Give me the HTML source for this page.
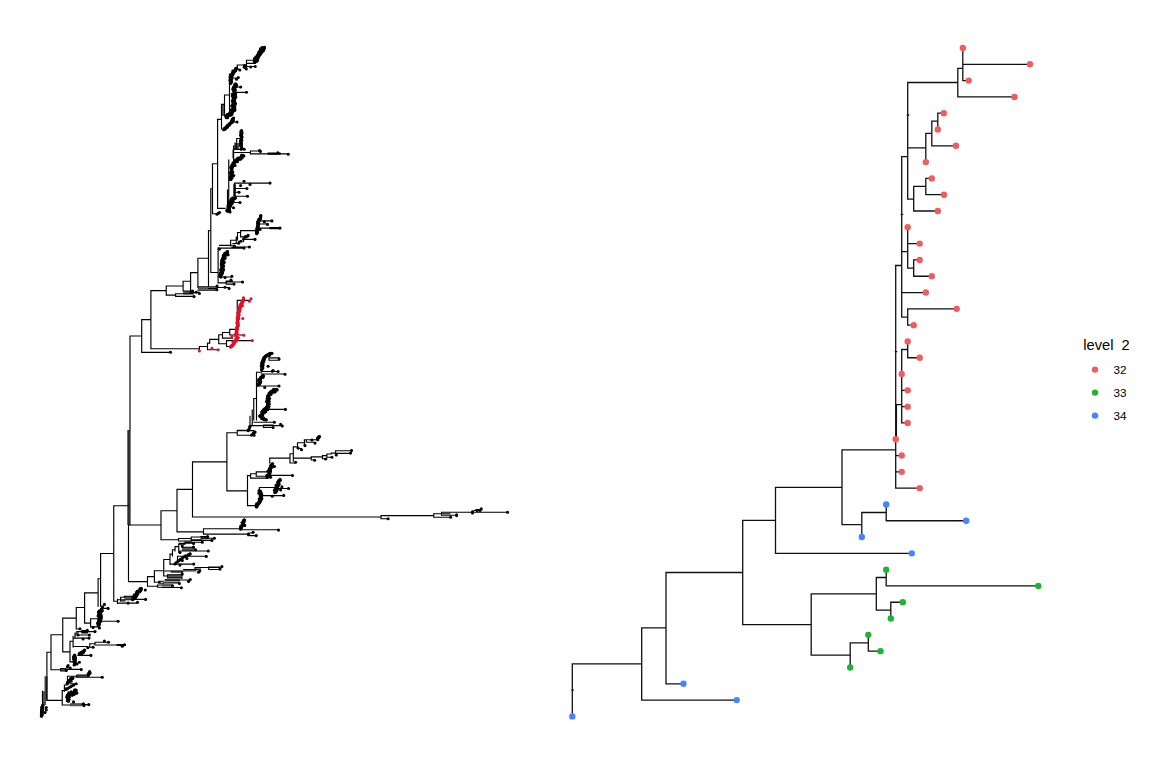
<!DOCTYPE html>
<html><head><meta charset="utf-8"><title>tree</title>
<style>
html,body{margin:0;padding:0;background:#fff;}
body{width:1152px;height:768px;overflow:hidden;position:relative;font-family:"Liberation Sans",sans-serif;color:#111;}
svg{position:absolute;left:0;top:0;}
.lt{position:absolute;left:1083.3px;top:337px;font-size:14.67px;line-height:17px;white-space:pre;color:#000;}
.ll{position:absolute;left:1113.6px;font-size:11.73px;line-height:14px;color:#000;}
</style></head><body>
<svg width="1152" height="768" viewBox="0 0 1152 768">
<rect width="1152" height="768" fill="#fff"/>
<g id="left">
<g fill="#555"><rect x="221.5" y="104.3" width="3" height="11.7"/><rect x="235" y="143" width="4" height="6.3"/><rect x="183.1" y="291" width="10.65" height="3.5"/><rect x="197.9" y="287.2" width="19.1" height="2.5"/><rect x="201.25" y="536.3" width="7.5" height="2.9"/><rect x="181.9" y="547.25" width="13.1" height="3.75"/><rect x="183.75" y="569.75" width="12.5" height="1.85"/><rect x="170.6" y="570.75" width="12.5" height="2.15"/><rect x="167.5" y="574.75" width="13.75" height="3.15"/><rect x="165" y="579.1" width="15" height="2.5"/><rect x="162.5" y="584.1" width="10" height="2.5"/><rect x="124.4" y="596.25" width="6.85" height="3.15"/><rect x="60.6" y="668.5" width="5" height="2.5"/><rect x="42.5" y="691.25" width="3.5" height="13.75"/><rect x="76.9" y="675" width="10.6" height="2.25"/><rect x="70" y="703.1" width="12.5" height="3.15"/></g>
<rect x="127.3" y="430" width="3.3" height="95" fill="#2e2e2e"/>
<rect x="44.5" y="676.25" width="3" height="24.3" fill="#444"/>
<path d="M246.5 60.25H254.5M246.5 60.25V66.5M237.3 65H246.5M247.5 63.3H254M246.5 66.5H255.2M237.3 69.5H239.8M237.3 65V69.5M232 78H238M229.5 74V113M224.5 95V116M224.5 95H229.5M235 87H240.7M234 92.3H246.5M221.5 104.3V129M221.5 104.3H224.5M217.5 119.3H221.5M217.6 119.3V208.4M232 122H237M236.7 138.5V149.3M236.7 138.5H240M235 143V149.3M233.6 149.3H244.2M233.6 146V160M233.6 152.5H250.4M250.4 151V154M250.4 151H260.4M250.4 153.9H288.3M217.6 208.4H225M212.5 163.75H217.6M212.5 163.75V213.75M212.5 213.75H217M210.8 188.75V272.5M210.8 188.75H212.5M208.5 230.6V286.6M208.5 230.6H210.8M233.1 150V158M228.75 160V210M227.5 190V208.75M234.4 183.75V198.75M234.4 183.1H270M234.4 188.5H246.9M234.4 192.25H239M234.4 196.25H247.5M231.9 202.5H240M258.5 220.9H271.9M258 224H267.5M257 228.1H280M240.6 230.6H256.25M240.6 230.6V236.9M237.5 232.5H240.6M237.5 232.5V240M240.6 236.9H248M245 239.4H255M230.6 240.25H236.25M230.6 240.25V246M236.25 237V243M243.5 239H246.3M238.6 241.3H241M243.5 239V241.3M238.6 241.3V243.5M233 243.5H238.6M220.6 245.25H235M210.8 272.5H218.1M197.9 258.25H208.5M197.9 258.25V287.5M190.6 272.6H197.9M190.6 272.6V290.6M183.1 281.25H190.6M183.1 281.25V291M166.25 286H183.1M166.25 286V295M150.9 290.6H166.25M150.9 290.6V348.75M141.7 319.6H150.9M141.7 319.6V352.4M166.25 295.1H175.6M175.6 293.75H193.75M175.6 296.4H193.75M175.6 293.75V296.4M183.1 291H192.5M190 292.3H199.4M197.9 286.7H217M197.9 290.2H216.9M208.5 288.5H217M217 287.5H229M218.1 247.9V282.9M219.5 245.4H230.6M218.1 248.1H243.75M232 247H249.4M220 277H232M226 282H242.5M226.25 281H232.5M226.25 284.1H232.5M226.25 281V284.1M218.1 282.9H226.25M237.25 300.4V330M237.25 300.4H249M229.75 329.4H235M150.9 348.75H199.4M141.7 352.4H170.5M130 336H141.7M130 336V430M199.4 346.5V351M199.4 346.5H207.5M207.5 343.1V349.75M207.5 349.75H218M209.75 339.4V343.1M207.5 343.1H209.75M209.75 339.4H218.75M218.75 334.75V343.75M218.75 334.75H222.5M218.75 343.75H226.5M222.5 332.5V338.1M222.5 332.5H229.75M222.5 338.1H232.5M229.75 329.4V335M229.75 335H243.75M226.5 340.6V346.5M226.5 340.6H252.25M226.5 346.5H230.6M269 357.8H279M269 360.2H279M269 357.8V360.2M256.5 372.25H261.5M256.5 372.25V420M261.25 374H285M262 371.5H278M256.5 386H278.75M267.5 409.4H285M254 422.25H274.4M253.75 398.5V420M253.75 398.5H256.5M252.25 410V425M250 416.25V427.5M250 425.6H282.5M263.5 425H273.1M263.5 427.5H273.1M263.5 425V427.5M237.25 430.25H248.1M226.9 432.75H237.25M237.25 430.6H253.75M237.25 435.25H253.75M237.25 430.6V435.25M226.9 432.75V490.8M192.5 461.8H226.9M192.5 461.8V517M177 489.4H192.5M177 489.4V531.9M226.9 490.8H247.5M247.5 475.6V505.6M247.5 475.6H250.6M250.6 473.75V478.1M250.6 478.1H267M250.6 473.75H256.25M256.25 471.9H266.9M256.25 476.25H266.9M256.25 471.9V476.25M267 475.4H292.5M269.75 458.1V463M269.75 458.1H290M290 453.75H293.3M290 463H293.3M290 453.75V463M293.3 448.1V461.25M290 463H295M293.3 458.1H311.25M311.25 456.9V460M311.25 460H314.5M311.25 456.9H322.5M322.5 455.6H326.9M322.5 458.75H326.9M322.5 455.6V458.75M326.9 454H331.25M326.9 457.25H331.25M326.9 454V457.25M331.25 453.1H335.6M335.6 450.7H350M335.6 453.3H350M335.6 450.7V453.3M293.3 446.9H297.5M297.5 448.5H301.5M297.5 442.75V446.9M297.5 442.75H303.75M304.4 439.75V445M304.4 439.75H317.5M306.25 439.75H313.75M306.25 442.25H313.75M306.25 439.75V442.25M259.4 487.5V496M259.4 487.5H274.4M276 488.5H288.5M261.25 495.6H283.75M247.5 505.6H255.6M192.5 517H381M381 515.6H388.1M381 518.75H388.1M381 515.6V518.75M388 515.6H433.75M433.75 513.75H450M433.75 517.25H450M433.75 513.75V517.25M441.5 512.25H456.25M441.5 515.25H456.25M441.5 512.25V515.25M441.5 512.25H507.5M474 510.5H480M476 509.5H481M129.4 525H161M161 510.75V539.75M161 510.75H177M128.5 525V581.6M177 531.9H203.5M203.5 528.75V534.1M203.5 528.75H240M203.5 534.1H248.1M240 529.75H278.1M248 535.6H256M248 533H253M113.75 505.75H128.5M113.75 505.75V601.25M100.6 553.5H113.75M128.5 581.6H147.5M161 539.75H178.5M178.5 538.5H191.25M178.5 541H191.25M178.5 538.5V541M191.25 537H201.25M191.25 539.75H201.25M191.25 537V539.75M201 538.25H214.4M191 540.4H212M185 542.25H202M201 536.6H207.6M179.4 543.25H193.6M172.5 549.75V556M175 546.6V551M178.75 544.1V552.25M178.75 544.1H185M175 546.6H178.75M172.5 549.75H175M181.9 547.25H193.5M180 551H208.1M170 554.1V564.5M170 554.1H172.5M177.5 556.25H206.25M177.5 556.25V562.25M170 564.1H193.75M163.75 559.5V576M163.75 559.5H170M154.4 570.75H163.75M154.4 570.75V582.25M147.5 576.6H154.4M147.5 576.6V586.25M195 567.5H220M208.75 567H219.4M208.75 569.5H219.4M208.75 567V569.5M195 567.9H200.6M195 569.75H200.6M195 567.9V569.75M183.75 569.5H197.5M165 571H183.75M181.9 572.25V578.5M163.75 576H167.5M167.5 574.75H181.25M167.5 577.9H181.25M167.5 574.75V577.9M165 580H190M154.4 582.25H160M158.75 581.25H163.75M158.75 583.25H163.75M158.75 581.25V583.25M163.75 582.9H179.4M147.5 586.25H157.5M157.5 585H162.5M157.5 587.25H162.5M157.5 585V587.25M162.5 587.5H181.25M100.6 553.5V606.25M113.75 601.25H117.5M133 599.4H145.6M117.5 599.75H133.75M117.5 599.4V603.5M117.5 603.1H137.5M120.6 597.25H125M120.6 601H125M120.6 597.25V601M124.4 596.25H133M98.1 578.75H100.6M98.1 578.75V606.25M84.6 592.9H98.1M84.6 592.9V623.1M84.6 623.1H90.6M76.25 607.5H84.6M76.25 607.5V629M62.75 618.1H76.25M62.75 618.1V651.9M62.75 651.9H70M51 634.75H62.75M51 634.75V669.75M46.9 652.25H51M46.9 652.25V700.4M100.6 608.4H108M100 621.25H118.1M90.6 618.75H95M90.6 626.9H95M90.6 618.75V626.9M95 618.75H98M95 626.9H98M76.25 629H80M76.9 631.6H95M81.9 630.6H87.5M81.9 632.9H87.5M81.9 630.6V632.9M73.1 638.1H89M73.1 636.25V646.9M75 633.1V637.5M75 633.1H78M75 635H89.4M70 641.25V661.9M70 641.25H73.1M73.1 646.5H87.5M87.5 647.25H93.1M89.75 643.75V646.9M89.75 643.75H95M95 642.25H103.75M95 645H103.75M95 642.25V645M103.75 642.25H108.5M103.75 645H125M78 655.4H90.9M70 661.9H74.4M51 669.75H60.6M60.6 668.5H65.6M60.6 671H65.6M60.6 668.5V671M65.6 669.4H81M42.5 691.25V705M46.9 700.4H62.25M62.25 690.6V705M76.25 677.25H102.25M76.9 675H87.5M76.9 677.25H87.5M76.9 675V677.25M67.5 676.25H76.25M67.5 676.25V682.5M70 683.75H76.25M64.4 685V691.25M64.4 685H67.5M64.4 688.1H67.5M64.4 685V688.1M62.25 690.6H64.4M62.25 705H70M82 704.6H88.75" fill="none" stroke="#000" stroke-width="1.15" stroke-linecap="square"/>
<path d="M268.3 153.6L280 153.6" stroke="#000" stroke-width="2.2" stroke-linecap="round"/>
<path d="M234.6 185L234.6 199" stroke="#000" stroke-width="2.4" stroke-linecap="round"/>
<path d="M270 228.1L280 228.1" stroke="#000" stroke-width="2.2" stroke-linecap="round"/>
<path d="M117.5 645L125 645" stroke="#000" stroke-width="2.2" stroke-linecap="round"/>
<path d="M264.2 47.2L259.4 52.5L256.7 56.7L255 62.5" fill="none" stroke="#000" stroke-width="2.87" stroke-linecap="round" stroke-linejoin="round"/>
<path d="M236.5 68L232.5 73L230.8 78L230.7 83.5" fill="none" stroke="#000" stroke-width="2.24" stroke-linecap="round" stroke-linejoin="round"/>
<path d="M235.3 84L234.3 92L233.6 104L232.8 112L229.5 115.3L226 117" fill="none" stroke="#000" stroke-width="2.94" stroke-linecap="round" stroke-linejoin="round"/>
<path d="M233.5 118L231.5 123L227 126.5L223.5 129.5" fill="none" stroke="#000" stroke-width="2.1" stroke-linecap="round" stroke-linejoin="round"/>
<path d="M241.4 130.6L241 149.3" fill="none" stroke="#000" stroke-width="2.03" stroke-linecap="round" stroke-linejoin="round"/>
<path d="M243.5 155.5L238 159L234 164L231.5 170L230.3 179.5" fill="none" stroke="#000" stroke-width="2.73" stroke-linecap="round" stroke-linejoin="round"/>
<path d="M232.5 198L230 204L227.5 211.25" fill="none" stroke="#000" stroke-width="2.8" stroke-linecap="round" stroke-linejoin="round"/>
<path d="M260.9 215.5L258.1 222.5L256.9 233.75" fill="none" stroke="#000" stroke-width="1.96" stroke-linecap="round" stroke-linejoin="round"/>
<path d="M227.5 251.5L224.5 256L223 262L222 270L220.7 277" fill="none" stroke="#000" stroke-width="2.59" stroke-linecap="round" stroke-linejoin="round"/>
<path d="M243.3 299L241 304L238.8 312L237.6 322L236.8 333L235.3 335.5" fill="none" stroke="#E0112B" stroke-width="2.03" stroke-linecap="round" stroke-linejoin="round"/>
<path d="M238.1 337.5L234 342.5L230.6 347.25" fill="none" stroke="#E0112B" stroke-width="2.1" stroke-linecap="round" stroke-linejoin="round"/>
<path d="M271.9 353.1L266.5 356L263.75 358.75L262.3 364L261.9 370" fill="none" stroke="#000" stroke-width="2.1" stroke-linecap="round" stroke-linejoin="round"/>
<path d="M263.1 375.6L260 380L258.1 385" fill="none" stroke="#000" stroke-width="2.45" stroke-linecap="round" stroke-linejoin="round"/>
<path d="M276.9 389.4L272 391.5L269.4 394.4L268 400L267.5 407.5L263.5 412L260 416.25" fill="none" stroke="#000" stroke-width="2.66" stroke-linecap="round" stroke-linejoin="round"/>
<path d="M260 416.25L263 418.5L266.25 420" fill="none" stroke="#000" stroke-width="2.1" stroke-linecap="round" stroke-linejoin="round"/>
<path d="M272.5 463.75L269.5 470L267.5 477.5" fill="none" stroke="#000" stroke-width="2.45" stroke-linecap="round" stroke-linejoin="round"/>
<path d="M319.4 436.5L317.7 439.6" fill="none" stroke="#000" stroke-width="2.1" stroke-linecap="round" stroke-linejoin="round"/>
<path d="M280 479.4L277 486L275 492.5" fill="none" stroke="#000" stroke-width="2.45" stroke-linecap="round" stroke-linejoin="round"/>
<path d="M259.4 490.6L261.25 497.5L258.5 502L256.25 506.9" fill="none" stroke="#000" stroke-width="2.45" stroke-linecap="round" stroke-linejoin="round"/>
<path d="M244.4 519.75L242 524.5L240.6 529.1" fill="none" stroke="#000" stroke-width="2.1" stroke-linecap="round" stroke-linejoin="round"/>
<path d="M141.25 588.5L136.5 594L132.5 599.4" fill="none" stroke="#000" stroke-width="2.45" stroke-linecap="round" stroke-linejoin="round"/>
<path d="M101.25 610L99.5 617L98.1 625" fill="none" stroke="#000" stroke-width="3.15" stroke-linecap="round" stroke-linejoin="round"/>
<path d="M84.4 650L79.4 654" fill="none" stroke="#000" stroke-width="2.45" stroke-linecap="round" stroke-linejoin="round"/>
<path d="M74.4 655L74.4 665" fill="none" stroke="#000" stroke-width="2.24" stroke-linecap="round" stroke-linejoin="round"/>
<path d="M42.7 705L42.2 711L41.6 716.25" fill="none" stroke="#000" stroke-width="1.89" stroke-linecap="round" stroke-linejoin="round"/>
<path d="M89.75 672L88.5 675.5" fill="none" stroke="#000" stroke-width="2.1" stroke-linecap="round" stroke-linejoin="round"/>
<path d="M73.1 678.1L70 681L67.5 683.75" fill="none" stroke="#000" stroke-width="2.45" stroke-linecap="round" stroke-linejoin="round"/>
<path d="M76.25 690.6L72 693L67.5 696.25" fill="none" stroke="#000" stroke-width="3.15" stroke-linecap="round" stroke-linejoin="round"/>
<path d="M67.5 696L68.1 701.25" fill="none" stroke="#000" stroke-width="2.45" stroke-linecap="round" stroke-linejoin="round"/>
<g fill="#000"><circle cx="264.43" cy="47.4" r="1.55"/><circle cx="264.41" cy="48.2" r="1.55"/><circle cx="263.39" cy="48.1" r="1.55"/><circle cx="261.96" cy="47.63" r="1.55"/><circle cx="263.82" cy="50.12" r="1.55"/><circle cx="263.41" cy="50.57" r="1.55"/><circle cx="260.51" cy="48.77" r="1.55"/><circle cx="260.79" cy="49.83" r="1.55"/><circle cx="262.19" cy="51.92" r="1.55"/><circle cx="261.1" cy="51.76" r="1.55"/><circle cx="259.57" cy="51.18" r="1.55"/><circle cx="260.97" cy="53.27" r="1.55"/><circle cx="258.69" cy="52.19" r="1.55"/><circle cx="260.16" cy="53.86" r="1.55"/><circle cx="260.09" cy="54.53" r="1.55"/><circle cx="259.76" cy="55.04" r="1.55"/><circle cx="258.02" cy="54.64" r="1.55"/><circle cx="257.69" cy="55.15" r="1.55"/><circle cx="258.78" cy="56.57" r="1.55"/><circle cx="258.19" cy="56.92" r="1.55"/><circle cx="258.12" cy="57.59" r="1.55"/><circle cx="255.8" cy="57.05" r="1.55"/><circle cx="256.36" cy="57.85" r="1.55"/><circle cx="257.8" cy="58.9" r="1.55"/><circle cx="254.41" cy="58.54" r="1.55"/><circle cx="255.12" cy="59.38" r="1.55"/><circle cx="257.29" cy="60.64" r="1.55"/><circle cx="256.83" cy="61.14" r="1.55"/><circle cx="254.28" cy="61.03" r="1.55"/><circle cx="254.38" cy="61.69" r="1.55"/><circle cx="254.71" cy="62.41" r="1.55"/><circle cx="236.79" cy="68.23" r="1.55"/><circle cx="235.93" cy="68.3" r="1.55"/><circle cx="235.5" cy="68.71" r="1.55"/><circle cx="235.39" cy="69.39" r="1.55"/><circle cx="235.75" cy="70.44" r="1.55"/><circle cx="235.25" cy="70.79" r="1.55"/><circle cx="235.01" cy="71.36" r="1.55"/><circle cx="233.58" cy="70.97" r="1.55"/><circle cx="232.81" cy="71.12" r="1.55"/><circle cx="233.77" cy="72.64" r="1.55"/><circle cx="233.13" cy="72.89" r="1.55"/><circle cx="232.46" cy="73.11" r="1.55"/><circle cx="233" cy="73.92" r="1.55"/><circle cx="231.68" cy="74.09" r="1.55"/><circle cx="232.78" cy="75.09" r="1.55"/><circle cx="231.3" cy="75.22" r="1.55"/><circle cx="231.91" cy="76.05" r="1.55"/><circle cx="230.92" cy="76.34" r="1.55"/><circle cx="230.24" cy="76.74" r="1.55"/><circle cx="230.21" cy="77.35" r="1.55"/><circle cx="231.56" cy="78.18" r="1.55"/><circle cx="231.72" cy="78.78" r="1.55"/><circle cx="230.35" cy="79.34" r="1.55"/><circle cx="230.34" cy="79.94" r="1.55"/><circle cx="229.99" cy="80.52" r="1.55"/><circle cx="231.51" cy="81.14" r="1.55"/><circle cx="231.15" cy="81.73" r="1.55"/><circle cx="231.46" cy="82.33" r="1.55"/><circle cx="230.46" cy="82.9" r="1.55"/><circle cx="230.39" cy="83.49" r="1.55"/><circle cx="236" cy="84.09" r="1.55"/><circle cx="234.75" cy="84.54" r="1.55"/><circle cx="236.55" cy="85.37" r="1.55"/><circle cx="234.28" cy="85.69" r="1.55"/><circle cx="236.43" cy="86.57" r="1.55"/><circle cx="234.93" cy="86.98" r="1.55"/><circle cx="233.42" cy="87.4" r="1.55"/><circle cx="233.98" cy="88.08" r="1.55"/><circle cx="234.7" cy="88.77" r="1.55"/><circle cx="232.88" cy="89.15" r="1.55"/><circle cx="235.35" cy="90.07" r="1.55"/><circle cx="234.48" cy="90.56" r="1.55"/><circle cx="233.61" cy="91.06" r="1.55"/><circle cx="234.33" cy="91.76" r="1.55"/><circle cx="235.08" cy="92.4" r="1.55"/><circle cx="235.04" cy="93" r="1.55"/><circle cx="235.65" cy="93.64" r="1.55"/><circle cx="232.42" cy="94.05" r="1.55"/><circle cx="235.58" cy="94.84" r="1.55"/><circle cx="232.67" cy="95.27" r="1.55"/><circle cx="232.31" cy="95.85" r="1.55"/><circle cx="235.47" cy="96.64" r="1.55"/><circle cx="235.76" cy="97.26" r="1.55"/><circle cx="233.17" cy="97.71" r="1.55"/><circle cx="234.73" cy="98.41" r="1.55"/><circle cx="233.1" cy="98.91" r="1.55"/><circle cx="233.86" cy="99.56" r="1.55"/><circle cx="234.62" cy="100.21" r="1.55"/><circle cx="232.35" cy="100.68" r="1.55"/><circle cx="233.75" cy="101.36" r="1.55"/><circle cx="234.52" cy="102.01" r="1.55"/><circle cx="232.89" cy="102.51" r="1.55"/><circle cx="235.41" cy="103.26" r="1.55"/><circle cx="235.37" cy="103.86" r="1.55"/><circle cx="232.77" cy="104.28" r="1.55"/><circle cx="233.5" cy="104.96" r="1.55"/><circle cx="234.88" cy="105.7" r="1.55"/><circle cx="231.63" cy="105.98" r="1.55"/><circle cx="234.12" cy="106.83" r="1.55"/><circle cx="234.7" cy="107.5" r="1.55"/><circle cx="233.2" cy="107.95" r="1.55"/><circle cx="233.15" cy="108.55" r="1.55"/><circle cx="234.84" cy="109.32" r="1.55"/><circle cx="231.59" cy="109.6" r="1.55"/><circle cx="234.72" cy="110.52" r="1.55"/><circle cx="231.15" cy="110.77" r="1.55"/><circle cx="232.05" cy="111.46" r="1.55"/><circle cx="232.14" cy="111.53" r="1.55"/><circle cx="231.03" cy="111.28" r="1.55"/><circle cx="230.61" cy="111.7" r="1.55"/><circle cx="231.99" cy="113.94" r="1.55"/><circle cx="231.57" cy="114.37" r="1.55"/><circle cx="229.56" cy="113.21" r="1.55"/><circle cx="230.72" cy="115.22" r="1.55"/><circle cx="229.16" cy="114.51" r="1.55"/><circle cx="229.25" cy="115.42" r="1.55"/><circle cx="228.35" cy="114.97" r="1.55"/><circle cx="227.39" cy="114.37" r="1.55"/><circle cx="227.62" cy="116.21" r="1.55"/><circle cx="227.7" cy="117.74" r="1.55"/><circle cx="226.08" cy="115.79" r="1.55"/><circle cx="226.31" cy="117.63" r="1.55"/><circle cx="233.63" cy="118.05" r="1.55"/><circle cx="233.28" cy="118.56" r="1.55"/><circle cx="232.58" cy="118.93" r="1.55"/><circle cx="232.24" cy="119.45" r="1.55"/><circle cx="233.32" cy="120.53" r="1.55"/><circle cx="233.09" cy="121.09" r="1.55"/><circle cx="231.57" cy="121.13" r="1.55"/><circle cx="231.35" cy="121.69" r="1.55"/><circle cx="232.03" cy="122.61" r="1.55"/><circle cx="231.08" cy="122.53" r="1.55"/><circle cx="230.77" cy="123.12" r="1.55"/><circle cx="230.12" cy="123.27" r="1.55"/><circle cx="229.56" cy="123.53" r="1.55"/><circle cx="229.56" cy="124.51" r="1.55"/><circle cx="229.29" cy="125.16" r="1.55"/><circle cx="228.22" cy="124.76" r="1.55"/><circle cx="228.13" cy="125.62" r="1.55"/><circle cx="227.26" cy="125.5" r="1.55"/><circle cx="227.39" cy="126.64" r="1.55"/><circle cx="227.21" cy="127.33" r="1.55"/><circle cx="226.25" cy="127.14" r="1.55"/><circle cx="226.02" cy="127.8" r="1.55"/><circle cx="225.74" cy="128.41" r="1.55"/><circle cx="224.65" cy="128.06" r="1.55"/><circle cx="224.82" cy="129.18" r="1.55"/><circle cx="223.96" cy="129.11" r="1.55"/><circle cx="223.7" cy="129.73" r="1.55"/><circle cx="241.62" cy="130.6" r="1.55"/><circle cx="240.97" cy="131.19" r="1.55"/><circle cx="241.62" cy="131.81" r="1.55"/><circle cx="241.92" cy="132.42" r="1.55"/><circle cx="240.79" cy="133" r="1.55"/><circle cx="241.9" cy="133.63" r="1.55"/><circle cx="241.32" cy="134.22" r="1.55"/><circle cx="241.31" cy="134.82" r="1.55"/><circle cx="240.61" cy="135.41" r="1.55"/><circle cx="241.28" cy="136.03" r="1.55"/><circle cx="241.96" cy="136.65" r="1.55"/><circle cx="241.82" cy="137.25" r="1.55"/><circle cx="241.25" cy="137.84" r="1.55"/><circle cx="241.23" cy="138.44" r="1.55"/><circle cx="240.91" cy="139.04" r="1.55"/><circle cx="241.52" cy="139.66" r="1.55"/><circle cx="241.76" cy="140.26" r="1.55"/><circle cx="240.49" cy="140.84" r="1.55"/><circle cx="241.17" cy="141.46" r="1.55"/><circle cx="240.47" cy="142.05" r="1.55"/><circle cx="240.83" cy="142.66" r="1.55"/><circle cx="241.44" cy="143.27" r="1.55"/><circle cx="240.55" cy="143.86" r="1.55"/><circle cx="241.1" cy="144.47" r="1.55"/><circle cx="241.4" cy="145.08" r="1.55"/><circle cx="240.52" cy="145.67" r="1.55"/><circle cx="241.06" cy="146.28" r="1.55"/><circle cx="241.61" cy="146.9" r="1.55"/><circle cx="241.6" cy="147.5" r="1.55"/><circle cx="241.58" cy="148.11" r="1.55"/><circle cx="241.35" cy="148.7" r="1.55"/><circle cx="241.22" cy="149.3" r="1.55"/><circle cx="219.5" cy="212.5" r="1.55"/><circle cx="218.25" cy="213.4" r="1.55"/><circle cx="217" cy="214.3" r="1.55"/><circle cx="243.82" cy="156.01" r="1.55"/><circle cx="242.99" cy="155.82" r="1.55"/><circle cx="241.83" cy="155.12" r="1.55"/><circle cx="241.6" cy="155.89" r="1.55"/><circle cx="242.13" cy="157.84" r="1.55"/><circle cx="241.32" cy="157.7" r="1.55"/><circle cx="240.81" cy="158.03" r="1.55"/><circle cx="240.74" cy="159.05" r="1.55"/><circle cx="240.09" cy="159.14" r="1.55"/><circle cx="238.91" cy="158.42" r="1.55"/><circle cx="238.03" cy="158.16" r="1.55"/><circle cx="238.46" cy="159.53" r="1.55"/><circle cx="237.01" cy="159.14" r="1.55"/><circle cx="236.63" cy="159.61" r="1.55"/><circle cx="237.33" cy="160.94" r="1.55"/><circle cx="237.38" cy="161.76" r="1.55"/><circle cx="235.07" cy="160.68" r="1.55"/><circle cx="234.48" cy="160.98" r="1.55"/><circle cx="234.74" cy="161.97" r="1.55"/><circle cx="234.37" cy="162.44" r="1.55"/><circle cx="233.56" cy="162.57" r="1.55"/><circle cx="233.18" cy="163.04" r="1.55"/><circle cx="232.72" cy="163.86" r="1.55"/><circle cx="235.02" cy="165.48" r="1.55"/><circle cx="233.39" cy="165.46" r="1.55"/><circle cx="231.77" cy="165.43" r="1.55"/><circle cx="231.53" cy="165.99" r="1.55"/><circle cx="231.3" cy="166.55" r="1.55"/><circle cx="231.32" cy="167.21" r="1.55"/><circle cx="230.84" cy="167.66" r="1.55"/><circle cx="231.36" cy="168.54" r="1.55"/><circle cx="231.77" cy="169.36" r="1.55"/><circle cx="231.53" cy="169.92" r="1.55"/><circle cx="231.44" cy="170.51" r="1.55"/><circle cx="231.36" cy="171.11" r="1.55"/><circle cx="232.78" cy="171.9" r="1.55"/><circle cx="231.21" cy="172.31" r="1.55"/><circle cx="229.91" cy="172.75" r="1.55"/><circle cx="231.06" cy="173.51" r="1.55"/><circle cx="232.48" cy="174.3" r="1.55"/><circle cx="232.13" cy="174.86" r="1.55"/><circle cx="232.33" cy="175.49" r="1.55"/><circle cx="231.98" cy="176.06" r="1.55"/><circle cx="230.68" cy="176.5" r="1.55"/><circle cx="231.83" cy="177.26" r="1.55"/><circle cx="232.03" cy="177.89" r="1.55"/><circle cx="231" cy="178.37" r="1.55"/><circle cx="229.97" cy="178.85" r="1.55"/><circle cx="230.9" cy="179.58" r="1.55"/><circle cx="233.09" cy="198.25" r="1.55"/><circle cx="233.15" cy="198.91" r="1.55"/><circle cx="231.51" cy="198.87" r="1.55"/><circle cx="233.01" cy="200.13" r="1.55"/><circle cx="230.92" cy="199.9" r="1.55"/><circle cx="232.84" cy="201.34" r="1.55"/><circle cx="231.81" cy="201.55" r="1.55"/><circle cx="230.24" cy="201.54" r="1.55"/><circle cx="232.16" cy="202.97" r="1.55"/><circle cx="231.93" cy="203.52" r="1.55"/><circle cx="228.76" cy="202.84" r="1.55"/><circle cx="231.21" cy="204.5" r="1.55"/><circle cx="229.12" cy="204.32" r="1.55"/><circle cx="229.62" cy="205.11" r="1.55"/><circle cx="230.66" cy="206.09" r="1.55"/><circle cx="228" cy="205.8" r="1.55"/><circle cx="229.73" cy="207.02" r="1.55"/><circle cx="229.53" cy="207.58" r="1.55"/><circle cx="227.97" cy="207.66" r="1.55"/><circle cx="229.15" cy="208.7" r="1.55"/><circle cx="228.27" cy="209.02" r="1.55"/><circle cx="229.57" cy="210.09" r="1.55"/><circle cx="229.08" cy="210.55" r="1.55"/><circle cx="226.79" cy="210.38" r="1.55"/><circle cx="227.5" cy="211.25" r="1.55"/><circle cx="260.9" cy="215.5" r="1.55"/><circle cx="260.67" cy="216.06" r="1.55"/><circle cx="260.45" cy="216.63" r="1.55"/><circle cx="260.48" cy="217.3" r="1.55"/><circle cx="260.56" cy="217.98" r="1.55"/><circle cx="260.23" cy="218.51" r="1.55"/><circle cx="260.11" cy="219.11" r="1.55"/><circle cx="258.86" cy="219.27" r="1.55"/><circle cx="259.35" cy="220.12" r="1.55"/><circle cx="258.41" cy="220.4" r="1.55"/><circle cx="258.9" cy="221.25" r="1.55"/><circle cx="258.42" cy="221.71" r="1.55"/><circle cx="257.63" cy="222.05" r="1.55"/><circle cx="257.57" cy="222.81" r="1.55"/><circle cx="258.49" cy="223.52" r="1.55"/><circle cx="257.66" cy="224.05" r="1.55"/><circle cx="258.47" cy="224.74" r="1.55"/><circle cx="258.3" cy="225.34" r="1.55"/><circle cx="257.47" cy="225.86" r="1.55"/><circle cx="257.95" cy="226.52" r="1.55"/><circle cx="258.1" cy="227.15" r="1.55"/><circle cx="257.05" cy="227.65" r="1.55"/><circle cx="257.21" cy="228.28" r="1.55"/><circle cx="258.02" cy="228.98" r="1.55"/><circle cx="256.75" cy="229.45" r="1.55"/><circle cx="257.01" cy="230.09" r="1.55"/><circle cx="257.5" cy="230.76" r="1.55"/><circle cx="256.67" cy="231.28" r="1.55"/><circle cx="256.49" cy="231.87" r="1.55"/><circle cx="257.51" cy="232.59" r="1.55"/><circle cx="256.67" cy="233.11" r="1.55"/><circle cx="256.66" cy="233.72" r="1.55"/><circle cx="227.7" cy="251.64" r="1.55"/><circle cx="226.87" cy="251.79" r="1.55"/><circle cx="227.25" cy="252.76" r="1.55"/><circle cx="227.42" cy="253.59" r="1.55"/><circle cx="226.69" cy="253.82" r="1.55"/><circle cx="224.73" cy="253.23" r="1.55"/><circle cx="226.44" cy="255.08" r="1.55"/><circle cx="224.68" cy="254.63" r="1.55"/><circle cx="224.35" cy="255.12" r="1.55"/><circle cx="223.41" cy="255.21" r="1.55"/><circle cx="223.77" cy="256.38" r="1.55"/><circle cx="224.82" cy="257.25" r="1.55"/><circle cx="223.01" cy="257.41" r="1.55"/><circle cx="225.01" cy="258.52" r="1.55"/><circle cx="223.2" cy="258.69" r="1.55"/><circle cx="222.34" cy="259.08" r="1.55"/><circle cx="222.2" cy="259.66" r="1.55"/><circle cx="222.05" cy="260.24" r="1.55"/><circle cx="221.91" cy="260.82" r="1.55"/><circle cx="224.14" cy="261.99" r="1.55"/><circle cx="221.62" cy="262.14" r="1.55"/><circle cx="223.98" cy="263.03" r="1.55"/><circle cx="221.48" cy="263.32" r="1.55"/><circle cx="222.74" cy="264.08" r="1.55"/><circle cx="221.57" cy="264.53" r="1.55"/><circle cx="221.26" cy="265.09" r="1.55"/><circle cx="223.61" cy="265.98" r="1.55"/><circle cx="223.54" cy="266.57" r="1.55"/><circle cx="221.76" cy="266.95" r="1.55"/><circle cx="222.3" cy="267.62" r="1.55"/><circle cx="222.83" cy="268.28" r="1.55"/><circle cx="221.06" cy="268.66" r="1.55"/><circle cx="223.41" cy="269.56" r="1.55"/><circle cx="223.34" cy="270.15" r="1.55"/><circle cx="220.57" cy="270.32" r="1.55"/><circle cx="222.39" cy="271.26" r="1.55"/><circle cx="221.68" cy="271.74" r="1.55"/><circle cx="222.17" cy="272.43" r="1.55"/><circle cx="222.54" cy="273.11" r="1.55"/><circle cx="220.27" cy="273.29" r="1.55"/><circle cx="220.64" cy="273.96" r="1.55"/><circle cx="221.74" cy="274.77" r="1.55"/><circle cx="221.03" cy="275.25" r="1.55"/><circle cx="219.86" cy="275.63" r="1.55"/><circle cx="220.16" cy="276.29" r="1.55"/><circle cx="220.94" cy="277.04" r="1.55"/><circle cx="271.97" cy="353.22" r="1.55"/><circle cx="271.47" cy="353.57" r="1.55"/><circle cx="270.72" cy="353.42" r="1.55"/><circle cx="270.32" cy="353.95" r="1.55"/><circle cx="269.43" cy="353.55" r="1.55"/><circle cx="269.57" cy="355.07" r="1.55"/><circle cx="269.11" cy="355.47" r="1.55"/><circle cx="267.92" cy="354.52" r="1.55"/><circle cx="267.86" cy="355.67" r="1.55"/><circle cx="267.17" cy="355.64" r="1.55"/><circle cx="266.35" cy="355.37" r="1.55"/><circle cx="265.95" cy="356.06" r="1.55"/><circle cx="265.23" cy="356.18" r="1.55"/><circle cx="265.1" cy="356.9" r="1.55"/><circle cx="264.93" cy="357.57" r="1.55"/><circle cx="263.96" cy="357.45" r="1.55"/><circle cx="263.84" cy="358.17" r="1.55"/><circle cx="264.32" cy="359.04" r="1.55"/><circle cx="263.22" cy="359.35" r="1.55"/><circle cx="264.01" cy="360.19" r="1.55"/><circle cx="262.9" cy="360.5" r="1.55"/><circle cx="262.74" cy="361.08" r="1.55"/><circle cx="263.67" cy="361.95" r="1.55"/><circle cx="262.02" cy="362.12" r="1.55"/><circle cx="262.61" cy="362.9" r="1.55"/><circle cx="261.7" cy="363.27" r="1.55"/><circle cx="262.93" cy="364.09" r="1.55"/><circle cx="261.91" cy="364.62" r="1.55"/><circle cx="262.99" cy="365.29" r="1.55"/><circle cx="261.41" cy="365.78" r="1.55"/><circle cx="261.37" cy="366.38" r="1.55"/><circle cx="262.73" cy="367.07" r="1.55"/><circle cx="262.69" cy="367.66" r="1.55"/><circle cx="262.65" cy="368.26" r="1.55"/><circle cx="261.98" cy="368.81" r="1.55"/><circle cx="261.73" cy="369.39" r="1.55"/><circle cx="261.65" cy="369.98" r="1.55"/><circle cx="263.49" cy="375.87" r="1.55"/><circle cx="262.49" cy="375.9" r="1.55"/><circle cx="263.18" cy="377.12" r="1.55"/><circle cx="262.51" cy="377.37" r="1.55"/><circle cx="260.94" cy="376.99" r="1.55"/><circle cx="260.94" cy="377.73" r="1.55"/><circle cx="260.6" cy="378.21" r="1.55"/><circle cx="260.26" cy="378.7" r="1.55"/><circle cx="260.35" cy="379.5" r="1.55"/><circle cx="259.04" cy="379.31" r="1.55"/><circle cx="258.69" cy="380.12" r="1.55"/><circle cx="260.69" cy="381.52" r="1.55"/><circle cx="258.87" cy="381.47" r="1.55"/><circle cx="260.26" cy="382.63" r="1.55"/><circle cx="259.85" cy="383.11" r="1.55"/><circle cx="259.64" cy="383.67" r="1.55"/><circle cx="258.92" cy="384.04" r="1.55"/><circle cx="258.97" cy="384.69" r="1.55"/><circle cx="257.66" cy="384.83" r="1.55"/><circle cx="277.13" cy="389.93" r="1.55"/><circle cx="276.2" cy="389.28" r="1.55"/><circle cx="275.8" cy="389.87" r="1.55"/><circle cx="275" cy="389.51" r="1.55"/><circle cx="275.27" cy="391.66" r="1.55"/><circle cx="273.59" cy="389.26" r="1.55"/><circle cx="274.17" cy="392.13" r="1.55"/><circle cx="273.06" cy="391.05" r="1.55"/><circle cx="272.76" cy="391.88" r="1.55"/><circle cx="271.49" cy="391.1" r="1.55"/><circle cx="271.09" cy="391.54" r="1.55"/><circle cx="270.69" cy="391.99" r="1.55"/><circle cx="270.29" cy="392.43" r="1.55"/><circle cx="271.25" cy="394.09" r="1.55"/><circle cx="269.11" cy="392.98" r="1.55"/><circle cx="270.06" cy="394.63" r="1.55"/><circle cx="269.32" cy="394.72" r="1.55"/><circle cx="268.54" cy="395.14" r="1.55"/><circle cx="268.4" cy="395.72" r="1.55"/><circle cx="267.5" cy="396.11" r="1.55"/><circle cx="268.74" cy="397.04" r="1.55"/><circle cx="267.97" cy="397.46" r="1.55"/><circle cx="269.59" cy="398.48" r="1.55"/><circle cx="267.17" cy="398.49" r="1.55"/><circle cx="267.53" cy="399.2" r="1.55"/><circle cx="268.65" cy="400.09" r="1.55"/><circle cx="267.32" cy="400.48" r="1.55"/><circle cx="269.09" cy="401.2" r="1.55"/><circle cx="266.46" cy="401.62" r="1.55"/><circle cx="267.85" cy="402.32" r="1.55"/><circle cx="268.97" cy="402.99" r="1.55"/><circle cx="267.77" cy="403.51" r="1.55"/><circle cx="269.15" cy="404.2" r="1.55"/><circle cx="267.69" cy="404.7" r="1.55"/><circle cx="267.65" cy="405.3" r="1.55"/><circle cx="268.26" cy="405.93" r="1.55"/><circle cx="268.99" cy="406.58" r="1.55"/><circle cx="266.36" cy="407.01" r="1.55"/><circle cx="268.26" cy="408.41" r="1.55"/><circle cx="266.98" cy="408.08" r="1.55"/><circle cx="267.66" cy="409.48" r="1.55"/><circle cx="267.07" cy="409.75" r="1.55"/><circle cx="264.92" cy="408.64" r="1.55"/><circle cx="265.88" cy="410.3" r="1.55"/><circle cx="263.93" cy="409.36" r="1.55"/><circle cx="265.67" cy="411.71" r="1.55"/><circle cx="263.14" cy="410.25" r="1.55"/><circle cx="264.68" cy="412.43" r="1.55"/><circle cx="262.51" cy="411.36" r="1.55"/><circle cx="262.13" cy="411.82" r="1.55"/><circle cx="261.75" cy="412.28" r="1.55"/><circle cx="262.78" cy="413.9" r="1.55"/><circle cx="262.8" cy="414.69" r="1.55"/><circle cx="262.02" cy="414.82" r="1.55"/><circle cx="262.04" cy="415.61" r="1.55"/><circle cx="260.76" cy="415.33" r="1.55"/><circle cx="260.92" cy="416.23" r="1.55"/><circle cx="259.64" cy="415.95" r="1.55"/><circle cx="260.18" cy="416" r="1.55"/><circle cx="260.49" cy="416.62" r="1.55"/><circle cx="260.98" cy="416.98" r="1.55"/><circle cx="261.84" cy="416.85" r="1.55"/><circle cx="261.58" cy="418.22" r="1.55"/><circle cx="261.98" cy="418.7" r="1.55"/><circle cx="263.31" cy="417.94" r="1.55"/><circle cx="263.74" cy="418.15" r="1.55"/><circle cx="263.77" cy="419.55" r="1.55"/><circle cx="264.59" cy="419.23" r="1.55"/><circle cx="265.02" cy="419.74" r="1.55"/><circle cx="265.7" cy="419.74" r="1.55"/><circle cx="266.31" cy="419.87" r="1.55"/><circle cx="250" cy="426.25" r="1.55"/><circle cx="249.62" cy="427.81" r="1.55"/><circle cx="248.87" cy="429.21" r="1.55"/><circle cx="248.16" cy="430.63" r="1.55"/><circle cx="255.09" cy="432.11" r="1.55"/><circle cx="253.66" cy="432.8" r="1.55"/><circle cx="252.76" cy="434.11" r="1.55"/><circle cx="251.59" cy="435.11" r="1.55"/><circle cx="272.69" cy="463.84" r="1.55"/><circle cx="271.94" cy="464.16" r="1.55"/><circle cx="271.97" cy="464.85" r="1.55"/><circle cx="271.71" cy="465.41" r="1.55"/><circle cx="270.57" cy="465.54" r="1.55"/><circle cx="272.24" cy="467.02" r="1.55"/><circle cx="270.91" cy="467.06" r="1.55"/><circle cx="271.13" cy="467.85" r="1.55"/><circle cx="269.9" cy="467.93" r="1.55"/><circle cx="269.63" cy="468.49" r="1.55"/><circle cx="270.34" cy="469.5" r="1.55"/><circle cx="269.1" cy="469.59" r="1.55"/><circle cx="270.54" cy="470.71" r="1.55"/><circle cx="270.38" cy="471.3" r="1.55"/><circle cx="267.94" cy="471.28" r="1.55"/><circle cx="269.85" cy="472.42" r="1.55"/><circle cx="269.9" cy="473.07" r="1.55"/><circle cx="269.75" cy="473.66" r="1.55"/><circle cx="268.97" cy="474.09" r="1.55"/><circle cx="268.81" cy="474.68" r="1.55"/><circle cx="269.27" cy="475.44" r="1.55"/><circle cx="266.83" cy="475.42" r="1.55"/><circle cx="268.57" cy="476.52" r="1.55"/><circle cx="267.97" cy="476.99" r="1.55"/><circle cx="267.04" cy="477.38" r="1.55"/><circle cx="319.62" cy="436.62" r="1.55"/><circle cx="318.71" cy="436.8" r="1.55"/><circle cx="318.83" cy="437.53" r="1.55"/><circle cx="317.88" cy="437.68" r="1.55"/><circle cx="317.83" cy="438.33" r="1.55"/><circle cx="317.58" cy="438.86" r="1.55"/><circle cx="317.82" cy="439.67" r="1.55"/><circle cx="280" cy="479.4" r="1.55"/><circle cx="280.28" cy="480.2" r="1.55"/><circle cx="279.1" cy="480.33" r="1.55"/><circle cx="278.75" cy="480.85" r="1.55"/><circle cx="278.5" cy="481.4" r="1.55"/><circle cx="278.74" cy="482.18" r="1.55"/><circle cx="277.6" cy="482.34" r="1.55"/><circle cx="278.72" cy="483.52" r="1.55"/><circle cx="279.05" cy="484.34" r="1.55"/><circle cx="278.21" cy="484.63" r="1.55"/><circle cx="278.55" cy="485.45" r="1.55"/><circle cx="276.14" cy="485.03" r="1.55"/><circle cx="276.05" cy="485.79" r="1.55"/><circle cx="277.72" cy="486.95" r="1.55"/><circle cx="276.62" cy="487.25" r="1.55"/><circle cx="277.57" cy="488.18" r="1.55"/><circle cx="276.77" cy="488.57" r="1.55"/><circle cx="277.21" cy="489.34" r="1.55"/><circle cx="274.97" cy="489.3" r="1.55"/><circle cx="276.85" cy="490.51" r="1.55"/><circle cx="274.41" cy="490.4" r="1.55"/><circle cx="275.77" cy="491.46" r="1.55"/><circle cx="275.86" cy="492.13" r="1.55"/><circle cx="274.79" cy="492.44" r="1.55"/><circle cx="258.94" cy="490.72" r="1.55"/><circle cx="260.11" cy="491.02" r="1.55"/><circle cx="260.62" cy="491.5" r="1.55"/><circle cx="260.38" cy="492.18" r="1.55"/><circle cx="258.87" cy="493.2" r="1.55"/><circle cx="261.31" cy="493.16" r="1.55"/><circle cx="260.32" cy="494.04" r="1.55"/><circle cx="261.62" cy="494.31" r="1.55"/><circle cx="261.15" cy="495.05" r="1.55"/><circle cx="260.26" cy="495.9" r="1.55"/><circle cx="260.94" cy="496.33" r="1.55"/><circle cx="261.61" cy="496.77" r="1.55"/><circle cx="260.73" cy="497.62" r="1.55"/><circle cx="261.78" cy="498.49" r="1.55"/><circle cx="261.65" cy="499.11" r="1.55"/><circle cx="259.87" cy="498.72" r="1.55"/><circle cx="259.2" cy="499" r="1.55"/><circle cx="260.54" cy="500.52" r="1.55"/><circle cx="260.41" cy="501.14" r="1.55"/><circle cx="259.92" cy="501.53" r="1.55"/><circle cx="259.24" cy="501.82" r="1.55"/><circle cx="259.55" cy="502.54" r="1.55"/><circle cx="259.11" cy="502.99" r="1.55"/><circle cx="258.86" cy="503.53" r="1.55"/><circle cx="258.22" cy="503.89" r="1.55"/><circle cx="256.61" cy="503.8" r="1.55"/><circle cx="257.73" cy="504.97" r="1.55"/><circle cx="256.51" cy="505.06" r="1.55"/><circle cx="255.89" cy="505.43" r="1.55"/><circle cx="257.02" cy="506.6" r="1.55"/><circle cx="256.45" cy="506.99" r="1.55"/><circle cx="244.4" cy="519.75" r="1.55"/><circle cx="243.94" cy="520.19" r="1.55"/><circle cx="243.41" cy="520.59" r="1.55"/><circle cx="244.15" cy="521.63" r="1.55"/><circle cx="243.64" cy="522.04" r="1.55"/><circle cx="243.37" cy="522.57" r="1.55"/><circle cx="242.1" cy="522.59" r="1.55"/><circle cx="243.21" cy="523.82" r="1.55"/><circle cx="242.56" cy="524.16" r="1.55"/><circle cx="242.72" cy="524.76" r="1.55"/><circle cx="242.55" cy="525.33" r="1.55"/><circle cx="242.38" cy="525.9" r="1.55"/><circle cx="240.86" cy="526.07" r="1.55"/><circle cx="240.96" cy="526.72" r="1.55"/><circle cx="240.79" cy="527.29" r="1.55"/><circle cx="241.43" cy="528.11" r="1.55"/><circle cx="240.57" cy="528.47" r="1.55"/><circle cx="240.6" cy="529.1" r="1.55"/><circle cx="190.06" cy="553.85" r="1.55"/><circle cx="188.55" cy="554.56" r="1.55"/><circle cx="187.28" cy="555.68" r="1.55"/><circle cx="185.52" cy="555.92" r="1.55"/><circle cx="184.05" cy="556.68" r="1.55"/><circle cx="182.68" cy="557.68" r="1.55"/><circle cx="181.52" cy="558.9" r="1.55"/><circle cx="180.01" cy="559.65" r="1.55"/><circle cx="178.86" cy="560.87" r="1.55"/><circle cx="177.44" cy="561.75" r="1.55"/><circle cx="176.05" cy="562.68" r="1.55"/><circle cx="175" cy="564" r="1.55"/><circle cx="141.09" cy="588.36" r="1.55"/><circle cx="141.1" cy="589.17" r="1.55"/><circle cx="139.87" cy="588.91" r="1.55"/><circle cx="140.79" cy="590.51" r="1.55"/><circle cx="140.39" cy="590.97" r="1.55"/><circle cx="139.67" cy="591.15" r="1.55"/><circle cx="139.6" cy="591.89" r="1.55"/><circle cx="137.57" cy="590.95" r="1.55"/><circle cx="137.34" cy="591.55" r="1.55"/><circle cx="136.94" cy="592.01" r="1.55"/><circle cx="136.54" cy="592.47" r="1.55"/><circle cx="137.61" cy="594.2" r="1.55"/><circle cx="136.48" cy="594.02" r="1.55"/><circle cx="136.55" cy="594.83" r="1.55"/><circle cx="136.71" cy="595.71" r="1.55"/><circle cx="134.45" cy="594.79" r="1.55"/><circle cx="135.81" cy="596.56" r="1.55"/><circle cx="135.62" cy="597.17" r="1.55"/><circle cx="135.26" cy="597.66" r="1.55"/><circle cx="133.17" cy="596.87" r="1.55"/><circle cx="132.81" cy="597.36" r="1.55"/><circle cx="133.57" cy="598.68" r="1.55"/><circle cx="132.86" cy="598.91" r="1.55"/><circle cx="132.81" cy="599.63" r="1.55"/><circle cx="102.03" cy="610.19" r="1.55"/><circle cx="102.27" cy="610.86" r="1.55"/><circle cx="99.7" cy="610.83" r="1.55"/><circle cx="98.89" cy="611.23" r="1.55"/><circle cx="100.68" cy="612.29" r="1.55"/><circle cx="98.59" cy="612.37" r="1.55"/><circle cx="99.51" cy="613.21" r="1.55"/><circle cx="98.66" cy="613.61" r="1.55"/><circle cx="100.99" cy="614.8" r="1.55"/><circle cx="99.08" cy="614.93" r="1.55"/><circle cx="101.41" cy="616.12" r="1.55"/><circle cx="98.08" cy="615.9" r="1.55"/><circle cx="100.42" cy="617.09" r="1.55"/><circle cx="101.4" cy="617.79" r="1.55"/><circle cx="99.32" cy="618.03" r="1.55"/><circle cx="100.84" cy="618.89" r="1.55"/><circle cx="100.73" cy="619.47" r="1.55"/><circle cx="99.91" cy="619.93" r="1.55"/><circle cx="98.91" cy="620.35" r="1.55"/><circle cx="100.79" cy="621.28" r="1.55"/><circle cx="99.61" cy="621.67" r="1.55"/><circle cx="99.51" cy="622.25" r="1.55"/><circle cx="99.41" cy="622.83" r="1.55"/><circle cx="97.52" cy="623.1" r="1.55"/><circle cx="99.02" cy="623.96" r="1.55"/><circle cx="99.17" cy="624.59" r="1.55"/><circle cx="98.89" cy="625.14" r="1.55"/><circle cx="84.53" cy="650.17" r="1.55"/><circle cx="84.3" cy="650.81" r="1.55"/><circle cx="83.76" cy="651.06" r="1.55"/><circle cx="83.63" cy="651.83" r="1.55"/><circle cx="83.32" cy="652.38" r="1.55"/><circle cx="82.46" cy="652.24" r="1.55"/><circle cx="81.67" cy="652.18" r="1.55"/><circle cx="81.96" cy="653.47" r="1.55"/><circle cx="80.76" cy="652.91" r="1.55"/><circle cx="80.57" cy="653.6" r="1.55"/><circle cx="79.66" cy="653.39" r="1.55"/><circle cx="79.16" cy="653.7" r="1.55"/><circle cx="74.71" cy="655" r="1.55"/><circle cx="74.86" cy="655.59" r="1.55"/><circle cx="74.06" cy="656.18" r="1.55"/><circle cx="73.48" cy="656.76" r="1.55"/><circle cx="75.34" cy="657.35" r="1.55"/><circle cx="75.34" cy="657.94" r="1.55"/><circle cx="74.83" cy="658.53" r="1.55"/><circle cx="73.47" cy="659.12" r="1.55"/><circle cx="75.34" cy="659.71" r="1.55"/><circle cx="75.17" cy="660.29" r="1.55"/><circle cx="74.4" cy="660.88" r="1.55"/><circle cx="73.98" cy="661.47" r="1.55"/><circle cx="75.34" cy="662.06" r="1.55"/><circle cx="74.4" cy="662.65" r="1.55"/><circle cx="75.32" cy="663.24" r="1.55"/><circle cx="74.74" cy="663.82" r="1.55"/><circle cx="74.65" cy="664.41" r="1.55"/><circle cx="74.09" cy="665" r="1.55"/><circle cx="42.87" cy="705.01" r="1.55"/><circle cx="42.96" cy="705.62" r="1.55"/><circle cx="42.41" cy="706.17" r="1.55"/><circle cx="42.32" cy="706.76" r="1.55"/><circle cx="41.98" cy="707.33" r="1.55"/><circle cx="41.93" cy="707.92" r="1.55"/><circle cx="42.83" cy="708.59" r="1.55"/><circle cx="41.93" cy="709.12" r="1.55"/><circle cx="41.88" cy="709.71" r="1.55"/><circle cx="41.73" cy="710.29" r="1.55"/><circle cx="41.97" cy="710.91" r="1.55"/><circle cx="42.14" cy="711.52" r="1.55"/><circle cx="41.55" cy="712.05" r="1.55"/><circle cx="42.24" cy="712.73" r="1.55"/><circle cx="41.51" cy="713.25" r="1.55"/><circle cx="41.87" cy="713.89" r="1.55"/><circle cx="42.23" cy="714.52" r="1.55"/><circle cx="41.92" cy="715.09" r="1.55"/><circle cx="41.41" cy="715.63" r="1.55"/><circle cx="41.51" cy="716.24" r="1.55"/><circle cx="89.51" cy="671.92" r="1.55"/><circle cx="89.9" cy="672.71" r="1.55"/><circle cx="89.92" cy="673.38" r="1.55"/><circle cx="88.4" cy="673.49" r="1.55"/><circle cx="88.33" cy="674.12" r="1.55"/><circle cx="88.35" cy="674.79" r="1.55"/><circle cx="88.37" cy="675.45" r="1.55"/><circle cx="72.84" cy="677.82" r="1.55"/><circle cx="72.65" cy="678.52" r="1.55"/><circle cx="71.67" cy="678.37" r="1.55"/><circle cx="71.1" cy="678.65" r="1.55"/><circle cx="70.5" cy="678.91" r="1.55"/><circle cx="70.5" cy="679.8" r="1.55"/><circle cx="71.08" cy="681.32" r="1.55"/><circle cx="69.57" cy="680.67" r="1.55"/><circle cx="68.68" cy="680.69" r="1.55"/><circle cx="68.75" cy="681.58" r="1.55"/><circle cx="68.34" cy="682.03" r="1.55"/><circle cx="67.62" cy="682.2" r="1.55"/><circle cx="67.38" cy="682.82" r="1.55"/><circle cx="67.15" cy="683.43" r="1.55"/><circle cx="66.25" cy="689.4" r="1.55"/><circle cx="67.72" cy="688.46" r="1.55"/><circle cx="69.18" cy="687.52" r="1.55"/><circle cx="70.68" cy="686.64" r="1.55"/><circle cx="72.21" cy="685.82" r="1.55"/><circle cx="73.75" cy="685" r="1.55"/><circle cx="75.93" cy="690.03" r="1.55"/><circle cx="75.23" cy="690.04" r="1.55"/><circle cx="74.53" cy="690.05" r="1.55"/><circle cx="75.45" cy="692.94" r="1.55"/><circle cx="75.1" cy="693.55" r="1.55"/><circle cx="74.57" cy="693.86" r="1.55"/><circle cx="74.03" cy="694.16" r="1.55"/><circle cx="73.32" cy="694.14" r="1.55"/><circle cx="71.02" cy="691.68" r="1.55"/><circle cx="72.01" cy="694.12" r="1.55"/><circle cx="72.16" cy="695.36" r="1.55"/><circle cx="70.48" cy="694.09" r="1.55"/><circle cx="68.81" cy="692.83" r="1.55"/><circle cx="69.49" cy="694.81" r="1.55"/><circle cx="68.46" cy="694.43" r="1.55"/><circle cx="69.45" cy="696.85" r="1.55"/><circle cx="67.42" cy="695.09" r="1.55"/><circle cx="67.97" cy="696.9" r="1.55"/><circle cx="67.12" cy="696.04" r="1.55"/><circle cx="67.25" cy="696.62" r="1.55"/><circle cx="66.87" cy="697.25" r="1.55"/><circle cx="68.65" cy="697.64" r="1.55"/><circle cx="67.77" cy="698.33" r="1.55"/><circle cx="68.37" cy="698.86" r="1.55"/><circle cx="69.06" cy="699.37" r="1.55"/><circle cx="67.97" cy="700.08" r="1.55"/><circle cx="67.33" cy="700.75" r="1.55"/><circle cx="68.57" cy="701.2" r="1.55"/></g>
<g fill="#E0112B"><circle cx="243.41" cy="299.05" r="1.55"/><circle cx="243.42" cy="299.72" r="1.55"/><circle cx="243.21" cy="300.28" r="1.55"/><circle cx="243.17" cy="300.92" r="1.55"/><circle cx="242.81" cy="301.42" r="1.55"/><circle cx="242.05" cy="301.73" r="1.55"/><circle cx="242.31" cy="302.51" r="1.55"/><circle cx="241.83" cy="302.95" r="1.55"/><circle cx="241.8" cy="303.6" r="1.55"/><circle cx="241.04" cy="303.91" r="1.55"/><circle cx="240.57" cy="304.4" r="1.55"/><circle cx="240.41" cy="304.98" r="1.55"/><circle cx="239.89" cy="305.46" r="1.55"/><circle cx="241.05" cy="306.4" r="1.55"/><circle cx="240.23" cy="306.8" r="1.55"/><circle cx="239.53" cy="307.23" r="1.55"/><circle cx="240.21" cy="308.04" r="1.55"/><circle cx="239.09" cy="308.35" r="1.55"/><circle cx="239.05" cy="308.96" r="1.55"/><circle cx="240.1" cy="309.87" r="1.55"/><circle cx="238.61" cy="310.09" r="1.55"/><circle cx="238.57" cy="310.7" r="1.55"/><circle cx="239.62" cy="311.61" r="1.55"/><circle cx="238.8" cy="312.01" r="1.55"/><circle cx="238.05" cy="312.52" r="1.55"/><circle cx="238.1" cy="313.13" r="1.55"/><circle cx="237.9" cy="313.71" r="1.55"/><circle cx="239.07" cy="314.46" r="1.55"/><circle cx="238.44" cy="314.99" r="1.55"/><circle cx="238.93" cy="315.65" r="1.55"/><circle cx="238.3" cy="316.18" r="1.55"/><circle cx="237.54" cy="316.69" r="1.55"/><circle cx="237.6" cy="317.3" r="1.55"/><circle cx="238.39" cy="318" r="1.55"/><circle cx="238.7" cy="318.64" r="1.55"/><circle cx="237.26" cy="319.08" r="1.55"/><circle cx="237.31" cy="319.69" r="1.55"/><circle cx="237.8" cy="320.35" r="1.55"/><circle cx="237.73" cy="320.95" r="1.55"/><circle cx="237.66" cy="321.54" r="1.55"/><circle cx="237.03" cy="322.1" r="1.55"/><circle cx="238.23" cy="322.79" r="1.55"/><circle cx="236.94" cy="323.29" r="1.55"/><circle cx="238.02" cy="323.97" r="1.55"/><circle cx="237.98" cy="324.57" r="1.55"/><circle cx="237.93" cy="325.17" r="1.55"/><circle cx="238.01" cy="325.78" r="1.55"/><circle cx="237.85" cy="326.37" r="1.55"/><circle cx="236.93" cy="326.9" r="1.55"/><circle cx="237.2" cy="327.53" r="1.55"/><circle cx="236.47" cy="328.07" r="1.55"/><circle cx="236.55" cy="328.68" r="1.55"/><circle cx="237.63" cy="329.36" r="1.55"/><circle cx="236.71" cy="329.9" r="1.55"/><circle cx="236.29" cy="330.47" r="1.55"/><circle cx="236.63" cy="331.1" r="1.55"/><circle cx="236.89" cy="331.72" r="1.55"/><circle cx="236.29" cy="332.27" r="1.55"/><circle cx="237.12" cy="332.94" r="1.55"/><circle cx="237.02" cy="333.73" r="1.55"/><circle cx="235.96" cy="333.8" r="1.55"/><circle cx="235.7" cy="334.34" r="1.55"/><circle cx="235.9" cy="335.16" r="1.55"/><circle cx="235.54" cy="335.64" r="1.55"/><circle cx="238.34" cy="337.7" r="1.55"/><circle cx="237.37" cy="337.66" r="1.55"/><circle cx="236.97" cy="338.09" r="1.55"/><circle cx="236.5" cy="338.47" r="1.55"/><circle cx="237.21" cy="339.8" r="1.55"/><circle cx="235.97" cy="339.54" r="1.55"/><circle cx="235.38" cy="339.82" r="1.55"/><circle cx="235.99" cy="341.07" r="1.55"/><circle cx="235.13" cy="341.13" r="1.55"/><circle cx="234.16" cy="341.09" r="1.55"/><circle cx="234.87" cy="342.43" r="1.55"/><circle cx="233.42" cy="342" r="1.55"/><circle cx="233.04" cy="342.51" r="1.55"/><circle cx="233.84" cy="343.8" r="1.55"/><circle cx="233.61" cy="344.36" r="1.55"/><circle cx="232.93" cy="344.59" r="1.55"/><circle cx="232.82" cy="345.23" r="1.55"/><circle cx="232.25" cy="345.55" r="1.55"/><circle cx="231.34" cy="345.62" r="1.55"/><circle cx="231.69" cy="346.59" r="1.55"/><circle cx="230.57" cy="346.51" r="1.55"/><circle cx="230.49" cy="347.17" r="1.55"/></g>
<g fill="#000"><circle cx="244.5" cy="65.5" r="1.55"/><circle cx="245.5" cy="67.5" r="1.55"/><circle cx="246.3" cy="69" r="1.55"/><circle cx="244.2" cy="67.3" r="1.55"/><circle cx="245.9" cy="66.2" r="1.55"/><circle cx="250.7" cy="67" r="1.55"/><circle cx="255.2" cy="66.5" r="1.55"/><circle cx="239.8" cy="70" r="1.55"/><circle cx="238.3" cy="77.5" r="1.55"/><circle cx="236.5" cy="79.3" r="1.55"/><circle cx="240.7" cy="87" r="1.55"/><circle cx="246.5" cy="92.3" r="1.55"/><circle cx="237" cy="122" r="1.55"/><circle cx="244.2" cy="149.3" r="1.55"/><circle cx="260.4" cy="151.4" r="1.55"/><circle cx="259.5" cy="150.5" r="1.55"/><circle cx="288.3" cy="154.3" r="1.55"/><circle cx="277.9" cy="152.8" r="1.55"/><circle cx="233.75" cy="175.6" r="1.55"/><circle cx="270" cy="183.1" r="1.55"/><circle cx="244" cy="181.25" r="1.55"/><circle cx="250" cy="184.4" r="1.55"/><circle cx="240.6" cy="185.6" r="1.55"/><circle cx="246.9" cy="188.5" r="1.55"/><circle cx="239" cy="192.25" r="1.55"/><circle cx="247.5" cy="196.25" r="1.55"/><circle cx="235.6" cy="198.1" r="1.55"/><circle cx="240" cy="202.5" r="1.55"/><circle cx="233.5" cy="207.75" r="1.55"/><circle cx="230" cy="211.9" r="1.55"/><circle cx="271.9" cy="220.9" r="1.55"/><circle cx="264.4" cy="221.9" r="1.55"/><circle cx="267.5" cy="224.4" r="1.55"/><circle cx="280" cy="228.1" r="1.55"/><circle cx="260" cy="229.4" r="1.55"/><circle cx="248.1" cy="235.4" r="1.55"/><circle cx="245" cy="236.9" r="1.55"/><circle cx="255" cy="239.4" r="1.55"/><circle cx="246.3" cy="236.6" r="1.55"/><circle cx="243.6" cy="239" r="1.55"/><circle cx="241" cy="241.3" r="1.55"/><circle cx="238.6" cy="243.2" r="1.55"/><circle cx="234.5" cy="246.2" r="1.55"/><circle cx="194" cy="296.6" r="1.55"/><circle cx="199.4" cy="293.5" r="1.55"/><circle cx="192.5" cy="291" r="1.55"/><circle cx="196.25" cy="292.25" r="1.55"/><circle cx="217.1" cy="286" r="1.55"/><circle cx="216.9" cy="289.75" r="1.55"/><circle cx="225" cy="287.25" r="1.55"/><circle cx="229.1" cy="288.5" r="1.55"/><circle cx="219.4" cy="249.1" r="1.55"/><circle cx="244" cy="248.1" r="1.55"/><circle cx="249.4" cy="247" r="1.55"/><circle cx="228.1" cy="254.75" r="1.55"/><circle cx="231.9" cy="276.25" r="1.55"/><circle cx="225" cy="277.5" r="1.55"/><circle cx="231" cy="280" r="1.55"/><circle cx="242.5" cy="282" r="1.55"/><circle cx="234" cy="284.1" r="1.55"/><circle cx="170.5" cy="352.3" r="1.55"/><circle cx="279.1" cy="359" r="1.55"/><circle cx="268.1" cy="366.25" r="1.55"/><circle cx="273.1" cy="370.6" r="1.55"/><circle cx="272.3" cy="371.2" r="1.55"/><circle cx="278.1" cy="371.5" r="1.55"/><circle cx="285" cy="374.25" r="1.55"/><circle cx="279" cy="386" r="1.55"/><circle cx="264.75" cy="387.5" r="1.55"/><circle cx="285.4" cy="409.4" r="1.55"/><circle cx="274.4" cy="422.25" r="1.55"/><circle cx="282.25" cy="426" r="1.55"/><circle cx="280.6" cy="424.4" r="1.55"/><circle cx="273.1" cy="427.5" r="1.55"/><circle cx="254.4" cy="432.5" r="1.55"/><circle cx="254" cy="435.25" r="1.55"/><circle cx="292.5" cy="475.5" r="1.55"/><circle cx="274.4" cy="466.5" r="1.55"/><circle cx="270.6" cy="477.25" r="1.55"/><circle cx="295.6" cy="462.3" r="1.55"/><circle cx="314.6" cy="460.25" r="1.55"/><circle cx="325.6" cy="459" r="1.55"/><circle cx="331.9" cy="457.25" r="1.55"/><circle cx="336.25" cy="455" r="1.55"/><circle cx="351.5" cy="450.6" r="1.55"/><circle cx="350.6" cy="453.1" r="1.55"/><circle cx="301.5" cy="449.75" r="1.55"/><circle cx="298.1" cy="448.1" r="1.55"/><circle cx="305" cy="445.6" r="1.55"/><circle cx="315" cy="443.1" r="1.55"/><circle cx="311.9" cy="440" r="1.55"/><circle cx="281.9" cy="486.9" r="1.55"/><circle cx="288.5" cy="488.5" r="1.55"/><circle cx="280.6" cy="490" r="1.55"/><circle cx="283.75" cy="495.4" r="1.55"/><circle cx="272.25" cy="496.25" r="1.55"/><circle cx="388.1" cy="518.75" r="1.55"/><circle cx="450.6" cy="517.25" r="1.55"/><circle cx="456.6" cy="515.6" r="1.55"/><circle cx="456.6" cy="514.8" r="1.55"/><circle cx="507.5" cy="512.25" r="1.55"/><circle cx="472.5" cy="511.8" r="1.55"/><circle cx="472.5" cy="513" r="1.55"/><circle cx="481.25" cy="508.9" r="1.55"/><circle cx="480" cy="510.5" r="1.55"/><circle cx="477" cy="510.5" r="1.55"/><circle cx="244.75" cy="525.4" r="1.55"/><circle cx="278.5" cy="530.1" r="1.55"/><circle cx="256.25" cy="535.6" r="1.55"/><circle cx="253.1" cy="532.25" r="1.55"/><circle cx="248.5" cy="534.5" r="1.55"/><circle cx="214.4" cy="538.25" r="1.55"/><circle cx="211.9" cy="540.4" r="1.55"/><circle cx="207.6" cy="536.6" r="1.55"/><circle cx="202.25" cy="542.25" r="1.55"/><circle cx="193.6" cy="543.5" r="1.55"/><circle cx="182.25" cy="546" r="1.55"/><circle cx="193.5" cy="547" r="1.55"/><circle cx="195.6" cy="549.75" r="1.55"/><circle cx="208.3" cy="551" r="1.55"/><circle cx="180" cy="552.5" r="1.55"/><circle cx="206.25" cy="556.4" r="1.55"/><circle cx="190" cy="554.1" r="1.55"/><circle cx="185" cy="556.6" r="1.55"/><circle cx="186.9" cy="558.5" r="1.55"/><circle cx="182.25" cy="560.4" r="1.55"/><circle cx="193.75" cy="564.1" r="1.55"/><circle cx="180" cy="565.1" r="1.55"/><circle cx="221.9" cy="566.6" r="1.55"/><circle cx="220" cy="569.1" r="1.55"/><circle cx="199.7" cy="571" r="1.55"/><circle cx="198.5" cy="572.25" r="1.55"/><circle cx="182.25" cy="574.1" r="1.55"/><circle cx="190.3" cy="579.6" r="1.55"/><circle cx="188.6" cy="581.4" r="1.55"/><circle cx="179.4" cy="583.5" r="1.55"/><circle cx="181.4" cy="587.7" r="1.55"/><circle cx="172.5" cy="585.75" r="1.55"/><circle cx="145.25" cy="590" r="1.55"/><circle cx="145.6" cy="599.4" r="1.55"/><circle cx="137.5" cy="602.25" r="1.55"/><circle cx="128.1" cy="603.1" r="1.55"/><circle cx="104.4" cy="604.4" r="1.55"/><circle cx="108.1" cy="608.4" r="1.55"/><circle cx="102.5" cy="606.9" r="1.55"/><circle cx="118.1" cy="621.25" r="1.55"/><circle cx="99.4" cy="627.9" r="1.55"/><circle cx="93.1" cy="627.5" r="1.55"/><circle cx="80" cy="628.75" r="1.55"/><circle cx="87.25" cy="630.4" r="1.55"/><circle cx="95" cy="631.6" r="1.55"/><circle cx="78.1" cy="635" r="1.55"/><circle cx="89.4" cy="635" r="1.55"/><circle cx="89" cy="638.1" r="1.55"/><circle cx="83.1" cy="639" r="1.55"/><circle cx="87.75" cy="647.75" r="1.55"/><circle cx="93.1" cy="647.25" r="1.55"/><circle cx="104.4" cy="641" r="1.55"/><circle cx="108.5" cy="642.25" r="1.55"/><circle cx="124.4" cy="644.75" r="1.55"/><circle cx="122.25" cy="646.25" r="1.55"/><circle cx="90.9" cy="655.4" r="1.55"/><circle cx="79.4" cy="662.25" r="1.55"/><circle cx="77" cy="664" r="1.55"/><circle cx="68.1" cy="665.6" r="1.55"/><circle cx="67.5" cy="666.9" r="1.55"/><circle cx="70.25" cy="668.1" r="1.55"/><circle cx="66.25" cy="670.4" r="1.55"/><circle cx="81.25" cy="669.6" r="1.55"/><circle cx="46.25" cy="707.5" r="1.55"/><circle cx="46.25" cy="710" r="1.55"/><circle cx="45" cy="712.5" r="1.55"/><circle cx="89.75" cy="671.9" r="1.55"/><circle cx="102.25" cy="677.25" r="1.55"/><circle cx="76.25" cy="683.75" r="1.55"/><circle cx="76.9" cy="693.1" r="1.55"/><circle cx="73.5" cy="701.9" r="1.55"/><circle cx="83.5" cy="703.75" r="1.55"/><circle cx="84" cy="705.6" r="1.55"/><circle cx="88.75" cy="704.6" r="1.55"/></g>
<g fill="#E0112B"><circle cx="243.5" cy="297.9" r="1.55"/><circle cx="251" cy="298.9" r="1.55"/><circle cx="249.4" cy="301.25" r="1.55"/><circle cx="242.75" cy="318.5" r="1.55"/><circle cx="242.5" cy="305.6" r="1.55"/><circle cx="199.4" cy="350.9" r="1.55"/><circle cx="211.9" cy="348.4" r="1.55"/><circle cx="218.1" cy="349.75" r="1.55"/><circle cx="243.75" cy="335.25" r="1.55"/><circle cx="252.25" cy="340.6" r="1.55"/><circle cx="231.9" cy="336.5" r="1.55"/></g>
</g>
<g id="right">
<path d="M962.8 48V80.6M962.8 64.3H1030M962.8 80.6H968.7M957.8 68.3H962.8M957.8 68.3V96.91M957.8 96.91H1014.5M907.7 82.5H957.8M937.8 113.21V129.51M937.8 113.21H943.8M931.8 121.2H937.8M931.8 121.2V145.81M931.8 145.81H956M925.8 133.4H931.8M925.8 133.4V162.11M907.7 147.8H925.8M907.7 82.5V199.2M907.7 199.2H913.7M913.7 186.4V211.02M913.7 211.02H937.8M913.7 186.4H925.8M925.8 178.42V194.72M925.8 178.42H931.8M925.8 194.72H944M901.7 156.7H907.7M901.7 156.7V317.2M907.7 227.32V268.2M907.7 243.62H919.7M901.7 251.7H907.7M907.7 268.2H913.7M913.7 259.93V276.23M913.7 259.93H919.7M913.7 276.23H931.8M901.7 292.53H925.8M901.7 317.2H907.7M907.7 308.83V325.13M907.7 308.83H956.7M907.7 325.13H913.7M895.7 265.5H901.7M895.7 265.5V488.15M901.7 349.5H907.7M907.7 341.44V357.74M907.7 357.74H919.7M901.7 349.5V422.95M901.7 390.34H907.7M901.7 406.64H907.7M901.7 422.95H907.7M895.7 404.7H901.7M896.4 404.7V439.25M895.7 455.55H901.7M895.7 471.85H901.7M895.7 488.15H919.7M842 449.8H895.7M842 449.8V524.7M842 524.7H861.8M861.8 512.5V537.06M861.8 512.5H886.2M886.2 504.46V520.76M886.2 520.76H966.2M775.5 487.3H842M775.5 487.3V553.36M775.5 553.36H911.8M742.7 520.3H775.5M742.7 520.3V624.7M742.7 624.7H811.2M811.2 593.8V655.2M811.2 593.8H876.3M876.3 577.5V610.2M876.3 577.5H886.2M886.2 569.66V585.97M886.2 585.97H1038.3M876.3 610.2H890.8M890.8 602.27V618.57M890.8 602.27H902.8M811.2 655.2H850.2M850.2 642.8V667.48M850.2 642.8H868.3M868.3 634.87V651.17M868.3 651.17H880.5M666 572.5H742.7M666 572.5V683.78M666 683.78H683.5M641.7 627.9H666M641.7 627.9V700.08M641.7 700.08H736.7M572.3 663.9H641.7M572.3 663.9V716.38M907.4 115H908.6M901.4 214.3H902.6M572 690.1H573.2M895.4 351.7H896.6" fill="none" stroke="#111" stroke-width="1.3" stroke-linecap="square"/>
<g fill="#F25C5C"><circle cx="962.8" cy="48" r="3.2"/><circle cx="1030" cy="64.3" r="3.2"/><circle cx="968.7" cy="80.6" r="3.2"/><circle cx="1014.5" cy="96.91" r="3.2"/><circle cx="943.8" cy="113.21" r="3.2"/><circle cx="937.8" cy="129.51" r="3.2"/><circle cx="956" cy="145.81" r="3.2"/><circle cx="925.8" cy="162.11" r="3.2"/><circle cx="931.8" cy="178.42" r="3.2"/><circle cx="944" cy="194.72" r="3.2"/><circle cx="937.8" cy="211.02" r="3.2"/><circle cx="907.7" cy="227.32" r="3.2"/><circle cx="919.7" cy="243.62" r="3.2"/><circle cx="919.7" cy="259.93" r="3.2"/><circle cx="931.8" cy="276.23" r="3.2"/><circle cx="925.8" cy="292.53" r="3.2"/><circle cx="956.7" cy="308.83" r="3.2"/><circle cx="913.7" cy="325.13" r="3.2"/><circle cx="907.7" cy="341.44" r="3.2"/><circle cx="919.7" cy="357.74" r="3.2"/><circle cx="901.7" cy="374.04" r="3.2"/><circle cx="907.7" cy="390.34" r="3.2"/><circle cx="907.7" cy="406.64" r="3.2"/><circle cx="907.7" cy="422.95" r="3.2"/><circle cx="895.7" cy="439.25" r="3.2"/><circle cx="901.7" cy="455.55" r="3.2"/><circle cx="901.7" cy="471.85" r="3.2"/><circle cx="919.7" cy="488.15" r="3.2"/></g>
<g fill="#1DB335"><circle cx="886.2" cy="569.66" r="3.2"/><circle cx="1038.3" cy="585.97" r="3.2"/><circle cx="902.8" cy="602.27" r="3.2"/><circle cx="890.8" cy="618.57" r="3.2"/><circle cx="868.3" cy="634.87" r="3.2"/><circle cx="880.5" cy="651.17" r="3.2"/><circle cx="850.2" cy="667.48" r="3.2"/></g>
<g fill="#4785FF"><circle cx="886.2" cy="504.46" r="3.2"/><circle cx="966.2" cy="520.76" r="3.2"/><circle cx="861.8" cy="537.06" r="3.2"/><circle cx="911.8" cy="553.36" r="3.2"/><circle cx="683.5" cy="683.78" r="3.2"/><circle cx="736.7" cy="700.08" r="3.2"/><circle cx="572.3" cy="716.38" r="3.2"/></g>
</g>
<g id="legend">
<circle cx="1095" cy="369.6" r="3.2" fill="#F25C5C"/>
<circle cx="1095" cy="392.6" r="3.2" fill="#1DB335"/>
<circle cx="1095" cy="415.6" r="3.2" fill="#4785FF"/>
</g>
</svg>
<div class="lt">level  2</div>
<div class="ll" style="top:362.7px">32</div>
<div class="ll" style="top:385.7px">33</div>
<div class="ll" style="top:408.8px">34</div>
</body></html>
